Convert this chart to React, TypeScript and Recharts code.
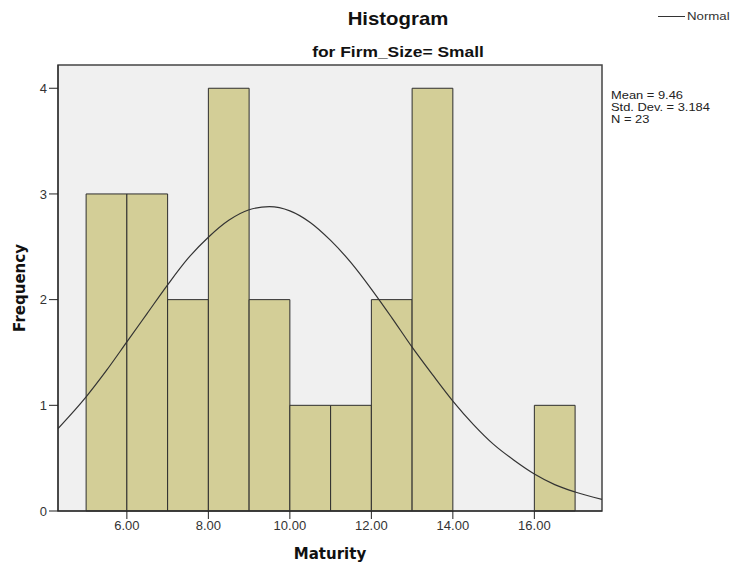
import React from 'react';
import {
  ComposedChart,
  Line,
  XAxis,
  YAxis,
  CartesianGrid,
  ReferenceArea,
} from 'recharts';

// histogram bins (Maturity, width 1) and their frequencies
const binStarts = [5, 6, 7, 8, 9, 10, 11, 12, 13, 14, 15, 16];
const binCounts = [3, 3, 2, 4, 2, 1, 1, 2, 4, 0, 0, 1];

// normal curve
const curveX = [4.31, 5, 5.5, 6, 6.5, 7, 7.5, 8, 8.5, 9, 9.5, 10, 10.5, 11, 11.5, 12, 12.5, 13, 13.5, 14, 14.5, 15, 15.5, 16, 16.5, 17, 17.66];
const curveY = [0.78, 1.08, 1.33, 1.6, 1.87, 2.14, 2.39, 2.59, 2.75, 2.85, 2.88, 2.84, 2.73, 2.56, 2.35, 2.1, 1.83, 1.55, 1.29, 1.04, 0.82, 0.63, 0.48, 0.35, 0.25, 0.18, 0.11];

const xTicks = [6, 8, 10, 12, 14, 16];
const yTicks = [0, 1, 2, 3, 4];
const xDomain = [4.31, 17.66];
const yDomain = [0, 4.22];

const stats = ['Mean = 9.46', 'Std. Dev. = 3.184', 'N = 23'];

const curve = curveX.map((x, i) => ({ x, y: curveY[i] }));

const FONT = 'Arial, "Liberation Sans", sans-serif';
const BOLD_FONT = '"DejaVu Sans", Verdana, sans-serif';

export default function App() {
  return (
    <div style={{ position: 'absolute', left: 0, top: 0, width: 732, height: 567, background: '#fff', fontFamily: FONT }}>
      <div style={{ position: 'absolute', left: 298, width: 200, top: 8, textAlign: 'center', fontWeight: 'bold', fontSize: 18.5, color: '#111', transform: 'scaleX(1.1)' }}>
        Histogram
      </div>
      <div style={{ position: 'absolute', left: 248, width: 300, top: 43, textAlign: 'center', fontWeight: 'bold', fontSize: 15, color: '#111', transform: 'scaleX(1.16)' }}>
        for Firm_Size= Small
      </div>
      {/* legend */}
      <div style={{ position: 'absolute', left: 658, top: 10, fontSize: 11.5, color: '#333', display: 'flex', alignItems: 'center' }}>
        <span style={{ display: 'inline-block', width: 27, borderTop: '1px solid #333', marginRight: 2 }} />
        <span style={{ display: 'inline-block', transform: 'scaleX(1.15)', transformOrigin: 'left center' }}>Normal</span>
      </div>
      {/* stats */}
      <div style={{ position: 'absolute', left: 611, top: 89, fontSize: 11.5, lineHeight: '12px', color: '#222', transform: 'scaleX(1.12)', transformOrigin: 'left top' }}>
        {stats.map((s) => (
          <div key={s}>{s}</div>
        ))}
      </div>
      <ComposedChart
        width={732}
        height={567}
        data={curve}
        margin={{ top: 65, right: 130, bottom: 26, left: 0 }}
      >
        <CartesianGrid fill="#f0f0f0" horizontal={false} vertical={false} />
        <XAxis
          dataKey="x"
          type="number"
          domain={xDomain}
          allowDataOverflow
          ticks={xTicks}
          tickFormatter={(v: number) => v.toFixed(2)}
          height={30}
          stroke="#222"
          tickSize={8}
          tick={{ fontSize: 13, fill: '#333', fontFamily: FONT }}
          label={{ value: 'Maturity', position: 'insideBottom', offset: -18, style: { fontFamily: BOLD_FONT, fontWeight: 'bold', fontSize: 15, fill: '#111' } }}
        />
        <YAxis
          type="number"
          domain={yDomain}
          allowDataOverflow
          ticks={yTicks}
          width={58}
          stroke="#222"
          tickSize={9}
          tick={{ fontSize: 13, fill: '#333', fontFamily: FONT }}
          label={{ value: 'Frequency', angle: -90, position: 'insideLeft', offset: 20, style: { fontFamily: BOLD_FONT, fontWeight: 'bold', fontSize: 15, fill: '#111', textAnchor: 'middle' } }}
        />
        {binStarts.map((start, i) =>
          binCounts[i] > 0 ? (
            <ReferenceArea
              key={start}
              x1={start}
              x2={start + 1}
              y1={0}
              y2={binCounts[i]}
              fill="#d3ce97"
              fillOpacity={1}
              stroke="#2e2e2e"
              strokeWidth={1}
            />
          ) : null
        )}
        {/* plot frame */}
        <ReferenceArea
          x1={xDomain[0]}
          x2={xDomain[1]}
          y1={yDomain[0]}
          y2={yDomain[1]}
          fill="none"
          stroke="#444"
          strokeWidth={1.5}
        />
        <Line
          dataKey="y"
          type="monotone"
          stroke="#333"
          strokeWidth={1.2}
          dot={false}
          isAnimationActive={false}
        />
      </ComposedChart>
    </div>
  );
}
